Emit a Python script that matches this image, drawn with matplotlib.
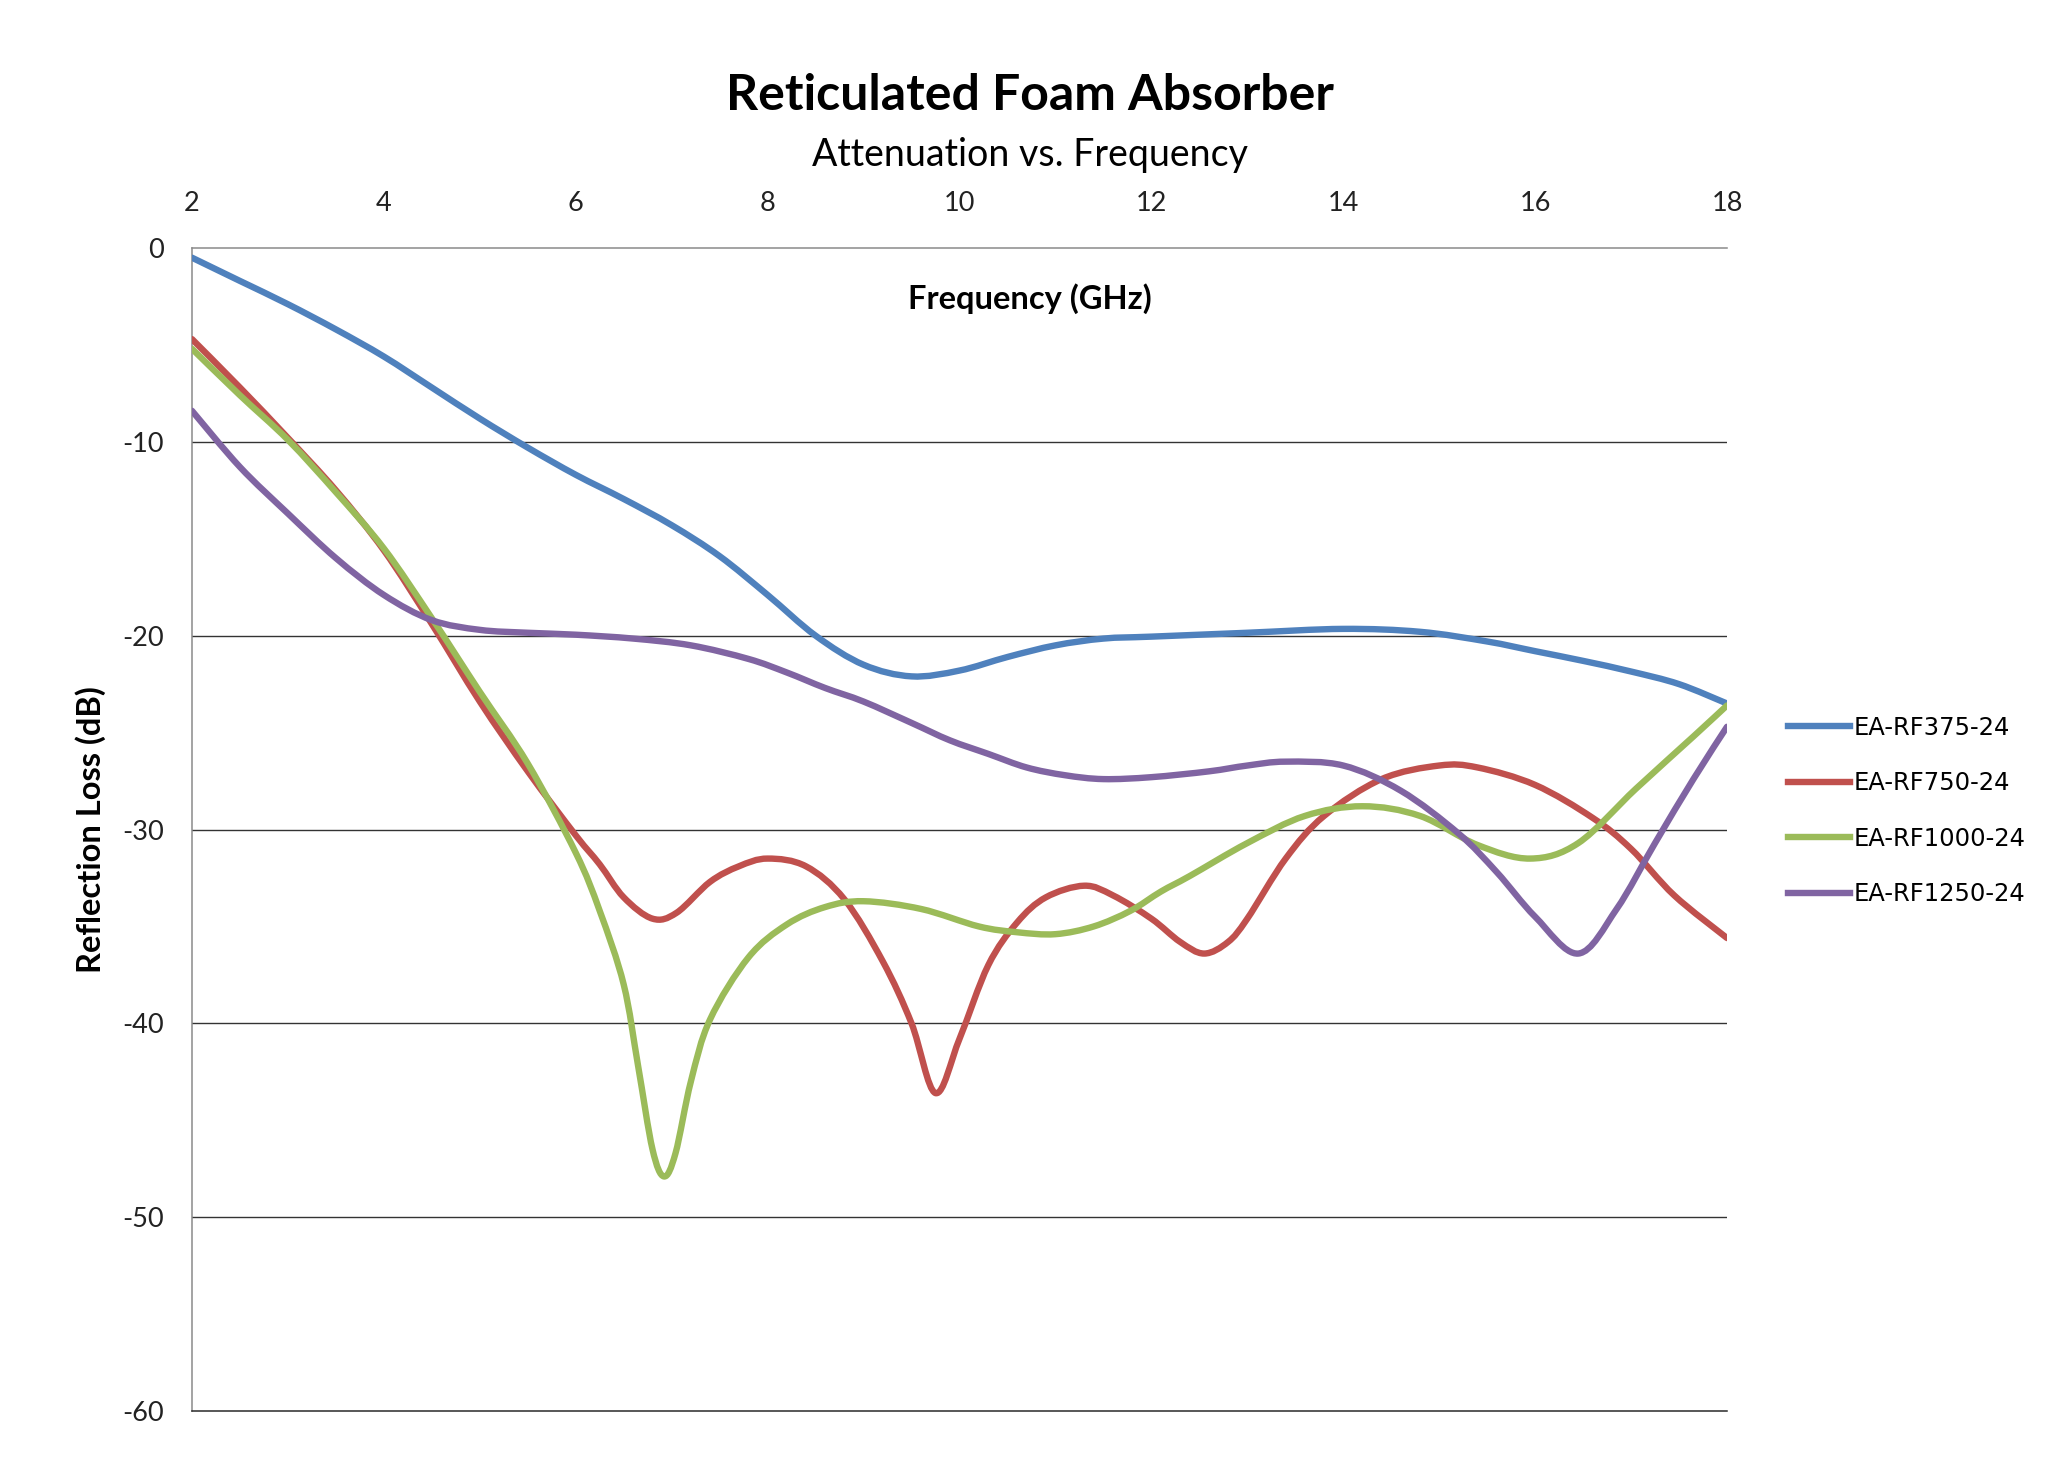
import matplotlib
matplotlib.use("Agg")
import matplotlib.pyplot as plt
from matplotlib.path import Path
from matplotlib.patches import PathPatch
from matplotlib.lines import Line2D

plt.rcParams['axes.unicode_minus'] = False

# Frequency (GHz) / reflection loss (dB)
f_375 = [2.0, 2.5, 3.0, 3.5, 4.0, 4.5, 5.0, 5.5, 6.0, 6.5, 7.0, 7.5, 8.0, 8.5,
         9.0, 9.5, 10.0, 10.5, 11.0, 11.5, 12.0, 13.0, 14.0, 14.8, 15.5, 16.0,
         16.5, 17.0, 17.5, 18.0]
rl_375 = [-0.5, -1.7, -2.9, -4.2, -5.6, -7.2, -8.8, -10.3, -11.7, -12.95, -14.3,
          -15.9, -17.9, -20.0, -21.5, -22.1, -21.8, -21.1, -20.5, -20.15, -20.05,
          -19.85, -19.65, -19.8, -20.3, -20.8, -21.3, -21.85, -22.5, -23.5]

f_750 = [2.0, 2.5, 3.0, 3.5, 4.0, 4.5, 5.0, 5.5, 6.0, 6.25, 6.5, 6.8, 7.05, 7.4,
         7.7, 8.0, 8.4, 8.8, 9.2, 9.5, 9.75, 10.0, 10.3, 10.6, 10.9, 11.3, 11.6,
         12.0, 12.3, 12.55, 12.8, 13.0, 13.4, 13.8, 14.4, 15.0, 15.4, 16.0, 16.6,
         17.0, 17.45, 18.0]
rl_750 = [-4.7, -7.2, -9.8, -12.5, -15.6, -19.4, -23.4, -27.0, -30.3, -31.8, -33.5,
          -34.6, -34.3, -32.7, -31.9, -31.5, -31.9, -33.6, -36.8, -40.0, -43.6,
          -40.8, -37.0, -34.8, -33.5, -32.9, -33.4, -34.6, -35.8, -36.4, -35.8,
          -34.6, -31.5, -29.3, -27.4, -26.7, -26.8, -27.7, -29.4, -31.0, -33.4, -35.6]

f_1000 = [2.0, 2.5, 3.0, 3.5, 4.0, 4.5, 5.0, 5.5, 6.0, 6.25, 6.5, 6.65, 6.8, 6.92,
          7.04, 7.2, 7.4, 7.8, 8.2, 8.6, 9.0, 9.6, 10.2, 10.6, 11.0, 11.4, 11.78,
          12.1, 12.4, 13.0, 13.6, 14.2, 14.8, 15.4, 15.95, 16.45, 17.05, 17.65, 18.0]
rl_1000 = [-5.2, -7.6, -9.9, -12.6, -15.5, -19.1, -22.9, -26.6, -31.2, -34.2, -38.0,
           -42.2, -46.5, -47.9, -46.7, -43.0, -39.8, -36.6, -34.9, -34.0, -33.7,
           -34.1, -35.0, -35.3, -35.4, -35.0, -34.2, -33.2, -32.4, -30.7, -29.3,
           -28.8, -29.3, -30.8, -31.5, -30.7, -27.9, -25.2, -23.6]

f_1250 = [2.0, 2.5, 3.0, 3.5, 4.0, 4.5, 5.0, 5.5, 6.0, 6.6, 7.2, 7.8, 8.2, 8.6, 9.0,
          9.5, 9.9, 10.3, 10.7, 11.1, 11.5, 12.0, 12.6, 13.0, 13.4, 14.0, 14.6, 15.2,
          15.6, 16.0, 16.45, 16.85, 17.25, 17.65, 18.0]
rl_1250 = [-8.4, -11.3, -13.7, -16.0, -17.9, -19.2, -19.7, -19.85, -19.95, -20.15,
           -20.5, -21.2, -21.9, -22.7, -23.4, -24.5, -25.4, -26.1, -26.8, -27.2,
           -27.4, -27.3, -27.0, -26.7, -26.5, -26.7, -28.0, -30.2, -32.2, -34.5,
           -36.4, -34.1, -30.7, -27.4, -24.7]

labels = ["EA-RF375-24", "EA-RF750-24", "EA-RF1000-24", "EA-RF1250-24"]
colors = ["#4F81BD", "#C0504D", "#9BBB59", "#8064A2"]
x_ticks = [2, 4, 6, 8, 10, 12, 14, 16, 18]
y_ticks = [0, -10, -20, -30, -40, -50, -60]

main_font = "Lato"
line_w = 4.6


def smooth_path(xs, ys):
    # Excel-style smoothed line: Catmull-Rom segments as cubic Beziers
    verts = [(xs[0], ys[0])]
    codes = [Path.MOVETO]
    n = len(xs)
    for i in range(n - 1):
        x0, y0 = (xs[i - 1], ys[i - 1]) if i > 0 else (xs[i], ys[i])
        x1, y1 = xs[i], ys[i]
        x2, y2 = xs[i + 1], ys[i + 1]
        x3, y3 = (xs[i + 2], ys[i + 2]) if i + 2 < n else (x2, y2)
        c1 = (x1 + (x2 - x0) / 6, y1 + (y2 - y0) / 6)
        c2 = (x2 - (x3 - x1) / 6, y2 - (y3 - y1) / 6)
        verts += [c1, c2, (x2, y2)]
        codes += [Path.CURVE4] * 3
    return Path(verts, codes)


fig = plt.figure(figsize=(20.48, 14.73), dpi=100)
ax = fig.add_axes([192 / 2048, 1 - 1411 / 1473, 1535 / 2048, 1163 / 1473])

series = [(f_375, rl_375), (f_750, rl_750), (f_1000, rl_1000), (f_1250, rl_1250)]
handles = []
for (fx, ry), lab, col in zip(series, labels, colors):
    patch = PathPatch(smooth_path(fx, ry), facecolor="none", edgecolor=col,
                      lw=line_w, capstyle="round", joinstyle="round", zorder=3)
    ax.add_patch(patch)
    handles.append(Line2D([], [], color=col, lw=line_w, label=lab))

ax.set_xlim(2, 18)
ax.set_ylim(-60, 0)
ax.xaxis.tick_top()
ax.set_xticks(x_ticks)
ax.set_yticks(y_ticks)
ax.set_xticklabels([str(t) for t in x_ticks], fontfamily=main_font, fontsize=19.5)
ax.set_yticklabels([str(t) for t in y_ticks], fontfamily=main_font, fontsize=19.5)
ax.tick_params(axis="x", length=0, pad=23, colors="#222222")
ax.tick_params(axis="y", length=0, pad=20, colors="#222222")

# horizontal gridlines like the Excel chart
for yv in y_ticks[1:-1]:
    ax.axhline(yv, color="#333333", lw=1.0, zorder=1)
ax.spines["right"].set_visible(False)
ax.spines["top"].set_color("#8a8a8a")
ax.spines["left"].set_color("#8a8a8a")
ax.spines["bottom"].set_color("#2a2a2a")
for s in ["top", "left", "bottom"]:
    ax.spines[s].set_linewidth(1.1)

fig.text(1030 / 2048, 1 - 95 / 1473, "Reticulated Foam Absorber", ha="center",
         va="center", fontfamily=main_font, fontweight="bold", fontsize=36)
fig.text(1030 / 2048, 1 - 155 / 1473, "Attenuation vs. Frequency", ha="center",
         va="center", fontfamily=main_font, fontsize=27)
fig.text(1030 / 2048, 1 - 299 / 1473, "Frequency (GHz)", ha="center", va="center",
         fontfamily=main_font, fontweight="bold", fontsize=23.5)
fig.text(91 / 2048, 1 - 830 / 1473, "Reflection Loss (dB)", ha="center", va="center",
         rotation=90, fontfamily=main_font, fontweight="bold", fontsize=23.5)

leg = fig.legend(handles=handles, loc="center left",
                 bbox_to_anchor=(1766 / 2048, 1 - 811 / 1473),
                 frameon=False, prop={"family": "DejaVu Sans", "size": 17.5},
                 handlelength=2.55, handletextpad=0.15, labelspacing=1.3)

fig.savefig("out.png", dpi=100, facecolor="white")
